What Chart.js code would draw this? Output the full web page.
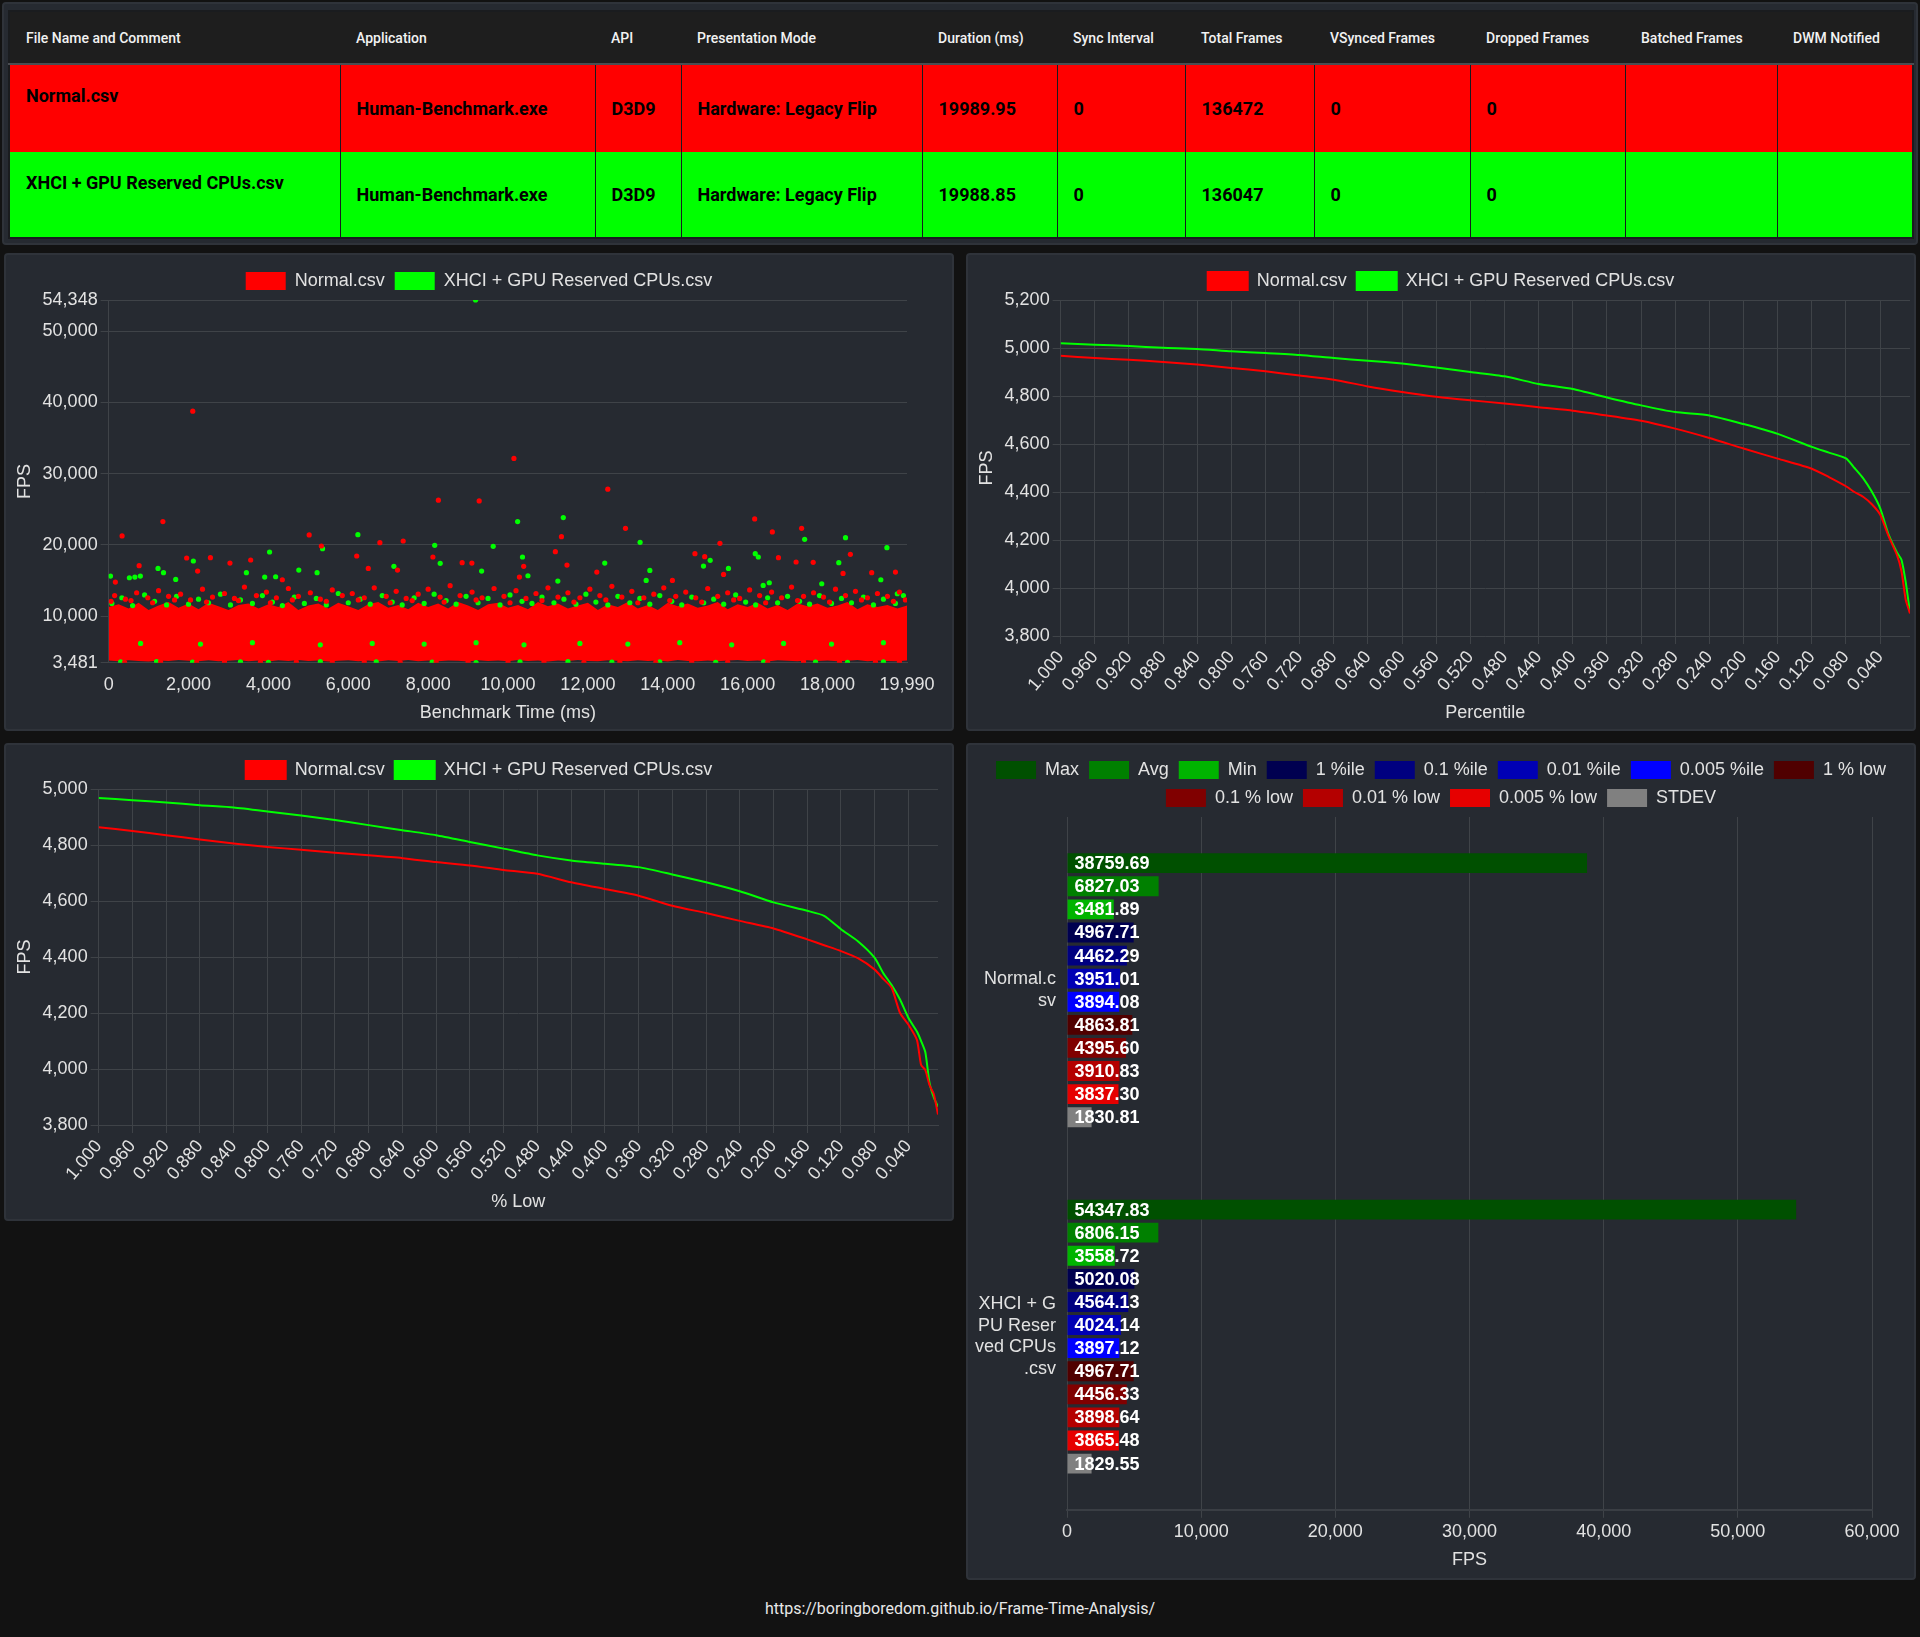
<!DOCTYPE html>
<html>
<head>
<meta charset="utf-8">
<script src="https://cdn.jsdelivr.net/npm/chart.js@4.4.1/dist/chart.umd.min.js"></script>
<style>
  html, body { margin:0; padding:0; }
  body { width:1920px; height:1637px; background:#121212; position:relative; overflow:hidden; font-family: Roboto, 'Liberation Sans', sans-serif; }
  .panel { position:absolute; background:#262a31; border:2px solid #2f333a; border-radius:4px; box-sizing:border-box; }
  .chartbox { position:absolute; left:4px; top:7px; right:4px; bottom:1px; }
  #tablePanel { left:2px; top:2px; width:1916px; height:243px; }
  table { position:absolute; left:4px; top:6px; width:1904px; border-collapse:collapse; table-layout:fixed; border:2px solid #1a1c1f; }
  th { background:#1e1e1e; color:#f2f2f2; font:500 14px Roboto, sans-serif; text-align:left; padding:0 0 0 16px; height:51px; border-bottom:2px solid #4a4d52; white-space:nowrap; overflow:hidden; }
  td { font:700 18px Roboto, sans-serif; color:#000; padding:0 0 0 16px; border-left:1px solid rgba(0,0,0,0.35); white-space:nowrap; overflow:hidden; vertical-align:middle; }
  td:first-child { vertical-align:top; padding-top:20px; border-left:none; }
  tr.r0 td { background:#ff0000; height:88px; box-sizing:border-box; }
  tr.r1 td { background:#00ff00; height:86px; box-sizing:border-box; }
  #footer { position:absolute; left:0; width:1920px; top:1599px; text-align:center; color:#e8e8e8; font:16px Roboto, sans-serif; }
</style>
</head>
<body>
<div id="tablePanel" class="panel"><table id="tbl"></table></div>
<div class="panel" style="left:4px;top:253px;width:950px;height:478px;"><div class="chartbox"><canvas id="c1"></canvas></div></div>
<div class="panel" style="left:966px;top:253px;width:950px;height:478px;"><div class="chartbox"><canvas id="c2"></canvas></div></div>
<div class="panel" style="left:4px;top:743px;width:950px;height:478px;"><div class="chartbox" style="top:6px;bottom:2px;"><canvas id="c3"></canvas></div></div>
<div class="panel" style="left:966px;top:743px;width:950px;height:837px;"><div class="chartbox" style="top:6px;bottom:3px;"><canvas id="c4"></canvas></div></div>
<div id="footer">https://boringboredom.github.io/Frame-Time-Analysis/</div>
<script>
// ---------------- DATA ----------------
const tableHeaders = ['File Name and Comment','Application','API','Presentation Mode','Duration (ms)','Sync Interval','Total Frames','VSynced Frames','Dropped Frames','Batched Frames','DWM Notified'];
const tableColWidths = [331,255,86,241,135,128,129,156,155,152,136];
const tableRowNormal = ['Normal.csv','Human-Benchmark.exe','D3D9','Hardware: Legacy Flip','19989.95','0','136472','0','0','',''];
const tableRowXhci = ['XHCI + GPU Reserved CPUs.csv','Human-Benchmark.exe','D3D9','Hardware: Legacy Flip','19988.85','0','136047','0','0','',''];

const seriesNames = ['Normal.csv','XHCI + GPU Reserved CPUs.csv'];

// Frame-time scatter (ms, FPS)
const scatterNormalPoints = [
 [2106,38759.69],[10148,32131],[12498,27822],[8256,26276],[9278,26182],[1358,23278],[16176,23653],[12941,22342],[17351,22342],[336,21264],
 [5021,21405],[16618,21827],[11338,21171],[6791,20328],[7375,20560],[15306,20234],[5326,19860],[1953,18173],[2548,18220],[6211,18454],
 [11185,19063],[8119,18314],[14680,18782],[14925,18361],[18572,18688],[16771,18220],[763,17095],[3037,17470],[3556,17892],[8851,17517],
 [9095,17470],[10392,17001],[11476,17189],[17213,17611],[17641,17564],[2228,16345],[6501,16720],[7233,16486],[19106,16111],[19701,16205],
 [168,14800],[4349,15126],[10285,15501],[12223,16205],[15397,15876],[18389,16017],[14116,15032]
];
const scatterNormalFringe = [
 [150,12900],[420,12400],[700,13300],[980,12600],[1250,13600],[1500,12800],[1800,13100],[2050,12300],[2350,13800],[2600,12700],
 [2900,13200],[3150,12500],[3400,14100],[3700,12900],[3950,13400],[4200,12600],[4500,13900],[4750,12800],[5050,13300],[5300,12400],
 [5600,13700],[5850,12900],[6100,13200],[6400,12600],[6650,14000],[6950,12800],[7200,13500],[7450,12500],[7750,13100],[8000,13800],
 [8300,12700],[8550,14300],[8800,12900],[9100,13400],[9350,12600],[9650,13900],[9900,12800],[10200,13600],[10450,12500],[10700,13200],
 [11000,14000],[11250,12700],[11500,13300],[11800,12600],[12050,13800],[12300,12900],[12600,14200],[12850,12700],[13100,13500],[13400,12600],
 [13650,13100],[13900,14000],[14200,12800],[14450,13400],[14700,12600],[15000,13900],[15250,12800],[15500,13300],[15800,12500],[16050,13700],
 [16300,12900],[16600,13400],[16850,12600],[17100,14100],[17400,12800],[17650,13300],[17900,12700],[18200,13800],[18450,12900],[18700,13500],
 [19000,12600],[19250,13200],[19500,12800],[19800,13400],[19950,12300],
 [60,12100],[560,12200],[1100,11900],[1650,12300],[2450,12000],[3250,12200],[4050,11900],[4600,12300],[5450,12100],[6250,12300],
 [7050,11900],[7600,12200],[8400,12000],[9200,12300],[10050,11900],[10850,12200],[11650,12000],[12450,12300],[13250,11900],[14050,12200],
 [14850,12000],[15650,12300],[16450,11900],[17250,12200],[18050,12000],[18850,12300],[19650,12100],
 [400,3560],[1300,3600],[2200,3530],[2900,3640],[3800,3580],[4700,3620],[5600,3550],[6400,3610],[7300,3540],[8200,3600],
 [9000,3570],[10000,3530],[10900,3620],[11900,3560],[12800,3600],[13700,3540],[14600,3610],[15500,3570],[16500,3530],[17400,3600],
 [18300,3560],[19200,3620],[19800,3580]
];
const scatterXhciPoints = [
 [9187,54347.83],[10240,23278],[11384,23840],[6241,21451],[8164,19953],[9629,19813],[13307,20375],[18450,21030],[17427,20796],[19487,19625],
 [5356,19485],[4029,19017],[2121,17752],[8302,17424],[10362,18314],[12422,17470],[14894,17048],[16191,18782],[16267,18314],[18282,17517],
 [46,15642],[1236,16720],[1373,16111],[1679,15174],[519,15407],[656,15501],[794,15642],[3449,16111],[3907,15501],[4181,15548],
 [4761,16486],[5219,16111],[7142,17001],[9339,16345],[10499,15689],[11247,14940],[13551,16439],[13459,15032],[15062,17845],[15519,16720],
 [16389,14331],[16542,14706],[19335,15126],[19747,13159],[17855,14566]
];
const scatterXhciFringe = [
 [80,11800],[330,12600],[600,11500],[900,13000],[1150,12100],[1450,11600],[1700,12800],[2000,11700],[2250,12400],[2500,11900],
 [2800,13100],[3050,11600],[3300,12300],[3600,11800],[3850,12900],[4100,12000],[4350,11500],[4650,12700],[4900,11800],[5200,12500],
 [5450,11600],[5750,13200],[6000,11900],[6300,12400],[6550,11700],[6850,12900],[7100,12000],[7350,11600],[7650,12600],[7900,11800],
 [8150,13100],[8450,12200],[8700,11700],[8950,12800],[9250,11900],[9500,12500],[9800,11600],[10050,13000],[10350,12100],[10600,11800],
 [10850,12700],[11150,11900],[11400,12400],[11700,11700],[11950,13100],[12200,12000],[12500,11600],[12750,12800],[13050,11900],[13300,12500],
 [13550,11700],[13800,12900],[14100,12100],[14350,11600],[14600,12700],[14900,11900],[15150,12400],[15400,11700],[15700,13000],[15950,12000],
 [16200,11600],[16500,12600],[16750,11900],[17000,12800],[17300,12100],[17550,11700],[17800,12900],[18100,11800],[18350,12500],[18600,11900],
 [18900,12700],[19150,11600],[19400,12400],[19700,11800],[19900,12900],
 [300,3600],[1200,3650],[2100,3580],[3300,3620],[4000,3560],[5300,3640],[6700,3600],[8100,3570],[9200,3520],[10300,3600],
 [11500,3640],[12600,3580],[13800,3610],[15200,3560],[16400,3620],[17700,3590],[18500,3540],[19400,3600],
 [800,6200],[2300,6100],[3600,6300],[5300,6000],[6600,6200],[7900,6100],[9200,6300],[10400,6000],[11800,6200],[13000,6100],
 [14300,6300],[15600,6000],[16900,6200],[18100,6100],[19400,6300]
];
// Envelope of the dense Normal.csv band (too dense to read point by point)
const bandTime = [0,250,500,750,1000,1250,1500,1750,2000,2250,2500,2750,3000,3250,3500,3750,4000,4250,4500,4750,5000,5250,5500,5750,6000,6250,6500,6750,7000,7250,7500,7750,8000,8250,8500,8750,9000,9250,9500,9750,10000,10250,10500,10750,11000,11250,11500,11750,12000,12250,12500,12750,13000,13250,13500,13750,14000,14250,14500,14750,15000,15250,15500,15750,16000,16250,16500,16750,17000,17250,17500,17750,18000,18250,18500,18750,19000,19250,19500,19750,19990];
const bandTop = [
 11300,11700,11100,11900,10900,11500,12000,11200,11800,11000,
 11900,11400,10900,11600,11800,11100,11700,11300,12000,10900,
 11500,11800,11100,11900,11400,10900,11700,12000,11200,11600,
 11000,11900,11300,11800,11100,12000,11500,10900,11700,11900,
 11200,11600,11000,12000,11400,11800,11100,11500,11900,10900,
 11700,11300,12000,11100,11600,10900,11900,11400,11800,11200,
 11500,12000,11000,11700,11300,11900,11100,11600,10900,11800,
 11400,11800,11200,11500,12000,11000,11700,11300,11600,11100,
 11500];
const bandBottom = [
 3800,3700,3850,3750,3680,3820,3720,3880,3760,3700,
 3840,3690,3780,3860,3710,3800,3670,3830,3750,3890,
 3720,3810,3680,3770,3850,3700,3790,3660,3840,3740,
 3870,3710,3800,3690,3820,3760,3680,3850,3730,3790,
 3700,3880,3750,3820,3670,3800,3720,3860,3740,3690,
 3830,3770,3700,3850,3720,3800,3680,3870,3750,3710,
 3820,3690,3790,3860,3730,3800,3670,3840,3760,3700,
 3850,3720,3810,3690,3780,3870,3710,3800,3740,3690,
 3800];
const scatterXTicks = [0,2000,4000,6000,8000,10000,12000,14000,16000,18000,19990];
const scatterYTicks = [3481,10000,20000,30000,40000,50000,54348];

// Percentile chart (x in percent)
const percentileX = [1.000,0.960,0.920,0.880,0.840,0.800,0.760,0.720,0.680,0.640,0.600,0.560,0.520,0.480,0.440,0.400,0.360,0.320,0.280,0.240,0.200,0.160,0.120,0.100,0.080,0.070,0.060,0.050,0.040,0.030,0.020,0.015,0.010,0.005];
const percentileNormal = [4967.71,4958,4951,4942,4931,4917,4903,4885,4868,4840,4817,4797,4782,4769,4753,4739,4719,4697,4664,4625,4581,4539,4497,4462.29,4424,4400,4380,4350,4306,4215,4135,4070,3951.01,3894.08];
const percentileXhci = [5020.08,5014,5008,5001,4996,4986,4979,4971,4958,4947,4935,4919,4900,4882,4850,4829,4794,4761,4733,4719,4683,4642,4588,4564.13,4540,4500,4458,4403,4333,4222,4146,4118,4024.14,3897.12];

// % Low chart
const lowX = [1.000,0.960,0.920,0.880,0.840,0.800,0.760,0.720,0.680,0.640,0.600,0.560,0.520,0.480,0.440,0.400,0.360,0.320,0.280,0.240,0.200,0.160,0.140,0.120,0.100,0.080,0.070,0.060,0.050,0.040,0.030,0.025,0.020,0.015,0.010,0.005];
const lowNormal = [4863.81,4850,4835,4820,4805,4793,4783,4772,4763,4753,4739,4727,4711,4697,4667,4643,4619,4583,4557,4529,4502,4463,4442,4421,4395.60,4355,4322,4290,4200,4158,4104,4014,3996,3942,3910.83,3837.30];
const lowXhci = [4967.71,4960,4952,4942,4934,4920,4905,4889,4871,4853,4835,4811,4787,4763,4745,4733,4721,4695,4667,4635,4595,4565,4547,4499,4456.33,4397,4343,4300,4248,4182,4134,4100,4060,3950,3898.64,3865.48];
const percentTicks = [1.000,0.960,0.920,0.880,0.840,0.800,0.760,0.720,0.680,0.640,0.600,0.560,0.520,0.480,0.440,0.400,0.360,0.320,0.280,0.240,0.200,0.160,0.120,0.080,0.040];

// Statistics bar chart
const statNames = ['Max','Avg','Min','1 %ile','0.1 %ile','0.01 %ile','0.005 %ile','1 % low','0.1 % low','0.01 % low','0.005 % low','STDEV'];
const statColors = ['#005000','#008000','#00b400','#000050','#000080','#0000b4','#0000ff','#500000','#800000','#b40000','#e60000','#808080'];
const statsNormal = [38759.69,6827.03,3481.89,4967.71,4462.29,3951.01,3894.08,4863.81,4395.60,3910.83,3837.30,1830.81];
const statsXhci = [54347.83,6806.15,3558.72,5020.08,4564.13,4024.14,3897.12,4967.71,4456.33,3898.64,3865.48,1829.55];

// ---------------- TABLE ----------------
(function(){
  const t = document.getElementById('tbl');
  let h = '<colgroup>' + tableColWidths.map(w => '<col style="width:' + w + 'px">').join('') + '</colgroup>';
  h += '<thead><tr>' + tableHeaders.map(x => '<th>' + x + '</th>').join('') + '</tr></thead><tbody>';
  [tableRowNormal, tableRowXhci].forEach((r, i) => { h += '<tr class="r' + i + '">' + r.map(x => '<td>' + x + '</td>').join('') + '</tr>'; });
  t.innerHTML = h + '</tbody>';
})();

// ---------------- CHARTS ----------------
Chart.defaults.font.family = "'Liberation Sans', Arial, Helvetica, sans-serif";
Chart.defaults.font.size = 18;
Chart.defaults.color = '#e2e2e2';
Chart.defaults.animation = false;
const GRID = '#3f4348';
const RED = '#ff0000', GREEN = '#00ff00';
const fmt0 = new Intl.NumberFormat('en-US', {maximumFractionDigits: 0});
const toXY = (xs, ys) => xs.map((x, i) => ({x: x, y: ys[i]}));
const pairs = a => a.map(p => ({x: p[0], y: p[1]}));
const legendOpts = { labels: { boxWidth: 40, boxHeight: 18, padding: 10 } };
// reserve room right of the plot area (only affects the horizontal axis, not the legend)
const rightRoom = n => (s => { s.paddingRight = Math.max(s.paddingRight || 0, n); });

new Chart(document.getElementById('c1'), {
  type: 'scatter',
  data: { datasets: [
    { label: seriesNames[0], data: pairs(scatterNormalPoints.concat(scatterNormalFringe)), backgroundColor: RED, borderColor: RED, pointRadius: 2.6, pointBorderWidth: 0, order: 1 },
    { label: seriesNames[1], data: pairs(scatterXhciPoints.concat(scatterXhciFringe)), backgroundColor: GREEN, borderColor: GREEN, pointRadius: 2.6, pointBorderWidth: 0, order: 2 },
    { label: 'band', type: 'line', data: toXY(bandTime, bandTop), borderWidth: 0, borderColor: RED, backgroundColor: RED, pointRadius: 0, fill: '+1', order: 3 },
    { label: 'bandBottom', type: 'line', data: toXY(bandTime, bandBottom), borderWidth: 0, borderColor: RED, backgroundColor: RED, pointRadius: 0, fill: false, order: 4 }
  ]},
  options: {
    responsive: true, maintainAspectRatio: false,
    plugins: { legend: Object.assign({}, legendOpts, { labels: Object.assign({}, legendOpts.labels, { filter: it => it.datasetIndex < 2 }) }), tooltip: { enabled: false } },
    scales: {
      x: { type: 'linear', min: 0, max: 19990,
        afterBuildTicks: s => { s.ticks = scatterXTicks.map(v => ({value: v})); },
        afterFit: rightRoom(41),
        ticks: { callback: v => fmt0.format(v), maxRotation: 0, autoSkip: false },
        grid: { display: false }, border: { color: GRID },
        title: { display: true, text: 'Benchmark Time (ms)' } },
      y: { min: 3481, max: 54348,
        afterBuildTicks: s => { s.ticks = scatterYTicks.map(v => ({value: v})); },
        ticks: { callback: v => fmt0.format(v) },
        grid: { color: GRID }, border: { color: GRID },
        title: { display: true, text: 'FPS' } }
    }
  }
});

function percentChart(id, xs, a, b, yMin, yMax, xTitle, padRight) {
  return new Chart(document.getElementById(id), {
    type: 'line',
    data: { datasets: [
      { label: seriesNames[0], data: toXY(xs, a), borderColor: RED, backgroundColor: RED, borderWidth: 2, pointRadius: 0, fill: false, tension: 0.2 },
      { label: seriesNames[1], data: toXY(xs, b), borderColor: GREEN, backgroundColor: GREEN, borderWidth: 2, pointRadius: 0, fill: false, tension: 0.2 }
    ]},
    options: {
      responsive: true, maintainAspectRatio: false,
      plugins: { legend: legendOpts, tooltip: { enabled: false } },
      scales: {
        x: { type: 'linear', reverse: true, min: 0.005, max: 1.0,
          afterBuildTicks: s => { s.ticks = percentTicks.map(v => ({value: v})); },
          afterFit: rightRoom(padRight),
          ticks: { callback: v => Number(v).toFixed(3), autoSkip: false, maxRotation: 50, minRotation: 50 },
          grid: { color: GRID }, border: { color: GRID },
          title: { display: true, text: xTitle } },
        y: { min: yMin, max: yMax, ticks: { stepSize: 200, callback: v => fmt0.format(v) },
          grid: { color: GRID }, border: { color: GRID },
          title: { display: true, text: 'FPS' } }
      }
    }
  });
}
percentChart('c2', percentileX, percentileNormal, percentileXhci, 3800, 5200, 'Percentile', 0);
percentChart('c3', lowX, lowNormal, lowXhci, 3800, 5000, '% Low', 10);

const barValueLabels = {
  id: 'barValueLabels',
  afterDatasetsDraw(chart) {
    const ctx = chart.ctx;
    ctx.save();
    ctx.font = "bold 18px 'Liberation Sans', Arial, sans-serif";
    ctx.fillStyle = '#ffffff';
    ctx.textAlign = 'left';
    ctx.textBaseline = 'middle';
    chart.data.datasets.forEach((ds, di) => {
      const meta = chart.getDatasetMeta(di);
      meta.data.forEach((bar, i) => {
        ctx.fillText(ds.data[i].toFixed(2), bar.base + 7, bar.y + 1);
      });
    });
    ctx.restore();
  }
};

new Chart(document.getElementById('c4'), {
  type: 'bar',
  data: {
    labels: seriesNames.map(s => s.match(/.{1,8}/g)),
    datasets: statNames.map((n, i) => ({ label: n, data: [statsNormal[i], statsXhci[i]], backgroundColor: statColors[i], borderColor: statColors[i], borderWidth: 0 }))
  },
  options: {
    indexAxis: 'y',
    responsive: true, maintainAspectRatio: false,
    datasets: { bar: { categoryPercentage: 0.8, barPercentage: 0.86 } },
    plugins: { legend: legendOpts, tooltip: { enabled: false } },
    scales: {
      x: { min: 0, max: 60000, ticks: { stepSize: 10000, callback: v => fmt0.format(v) },
        afterFit: rightRoom(38),
        grid: { color: GRID }, border: { color: '#3a3e44', width: 2 },
        title: { display: true, text: 'FPS' } },
      y: { grid: { display: false }, border: { color: GRID } }
    }
  },
  plugins: [barValueLabels]
});
</script>
</body>
</html>
